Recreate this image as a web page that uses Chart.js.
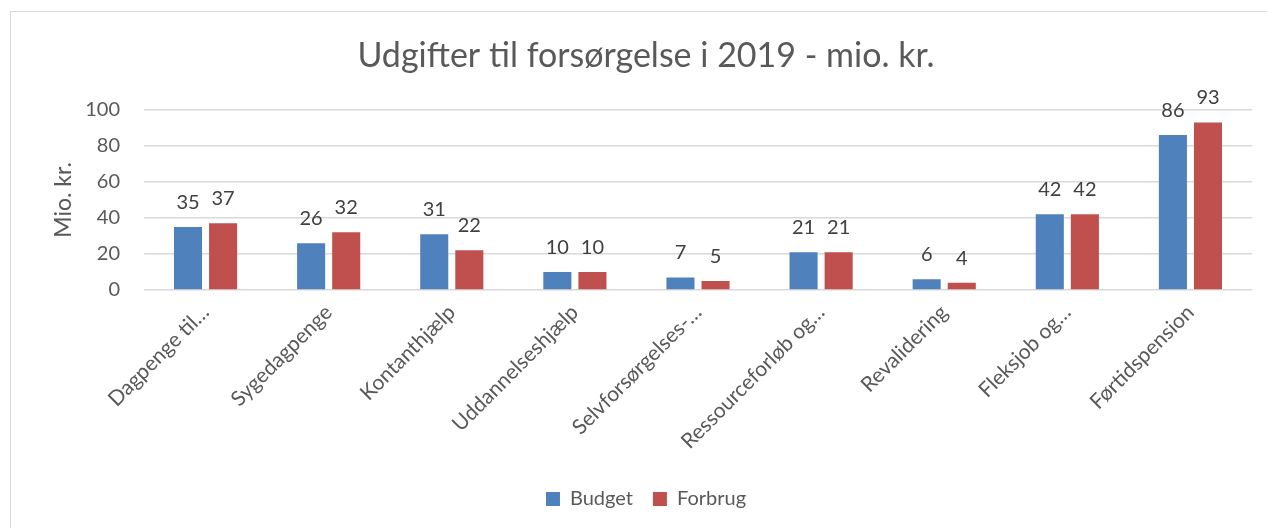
<!DOCTYPE html>
<html>
<head>
<meta charset="utf-8">
<script src="https://cdn.jsdelivr.net/npm/chart.js@4/dist/chart.umd.min.js"></script>
<style>
html,body{margin:0;padding:0;background:#fff;overflow:hidden;}
#wrap{position:absolute;left:0;top:0;width:1267px;height:528px;}
#frame{position:absolute;left:10px;top:11px;width:1400px;height:700px;border:1.5px solid #d9d9d9;box-sizing:border-box;}
canvas{position:absolute;left:0;top:0;}
</style>
</head>
<body>
<div id="wrap">
<div id="frame"></div>
<canvas id="c" width="1267" height="528"></canvas>
</div>
<script>
const categories = ["Dagpenge til…","Sygedagpenge","Kontanthjælp","Uddannelseshjælp","Selvforsørgelses-…","Ressourceforløb og…","Revalidering","Fleksjob og…","Førtidspension"];
const budget = [35, 26, 31, 10, 7, 21, 6, 42, 86];
const forbrug = [37, 32, 22, 10, 5, 21, 4, 42, 93];
const seriesNames = ["Budget", "Forbrug"];
const titleText = "Udgifter til forsørgelse i 2019 - mio. kr.";
const yTitle = "Mio. kr.";

const FONT = "Lato, 'Open Sans', sans-serif";

const dataLabels = {
  id: 'dataLabels',
  afterDatasetsDraw(chart) {
    const ctx = chart.ctx;
    ctx.save();
    ctx.font = "20px " + FONT;
    ctx.fillStyle = "#404040";
    ctx.textAlign = "center";
    ctx.textBaseline = "alphabetic";
    chart.data.datasets.forEach((ds, i) => {
      const meta = chart.getDatasetMeta(i);
      meta.data.forEach((bar, j) => {
        ctx.fillText(String(ds.data[j]), bar.x, bar.y - 18);
      });
    });
    ctx.restore();
  }
};

new Chart(document.getElementById('c'), {
  type: 'bar',
  data: {
    labels: categories,
    datasets: [
      { label: seriesNames[0], data: budget, backgroundColor: '#4F81BD', borderWidth: 0 },
      { label: seriesNames[1], data: forbrug, backgroundColor: '#C0504D', borderWidth: 0 }
    ]
  },
  options: {
    responsive: false,
    animation: false,
    devicePixelRatio: 1,
    layout: { padding: { left: 40, right: 15, top: 0, bottom: 9 } },
    datasets: { bar: { categoryPercentage: 0.57, barPercentage: 0.8 } },
    plugins: {
      title: {
        display: true,
        text: titleText,
        color: '#595959',
        font: { family: FONT, size: 34, weight: 'normal' },
        padding: { top: 36, bottom: 33 }
      },
      legend: {
        position: 'bottom',
        labels: {
          color: '#595959',
          font: { family: FONT, size: 20 },
          boxWidth: 14, boxHeight: 14,
          padding: 20
        }
      },
      tooltip: { enabled: false }
    },
    scales: {
      x: {
        grid: { display: false, drawTicks: false },
        border: { display: false },
        ticks: {
          color: '#595959',
          font: { family: FONT, size: 21 },
          maxRotation: 45, minRotation: 45,
          autoSkip: false,
          padding: 10
        },
        afterFit(scale) { scale.height = 179; }
      },
      y: {
        min: 0, max: 100,
        grid: { color: '#d9d9d9', lineWidth: 1.5, drawTicks: false },
        border: { display: false },
        ticks: {
          stepSize: 20,
          color: '#595959',
          font: { family: FONT, size: 20 },
          padding: 24
        },
        title: {
          display: true,
          text: yTitle,
          color: '#595959',
          font: { family: FONT, size: 23 },
          padding: { top: 10, bottom: 0 }
        },
        afterFit(scale) { scale.width = 104; }
      }
    }
  },
  plugins: [dataLabels]
});
</script>
</body>
</html>
